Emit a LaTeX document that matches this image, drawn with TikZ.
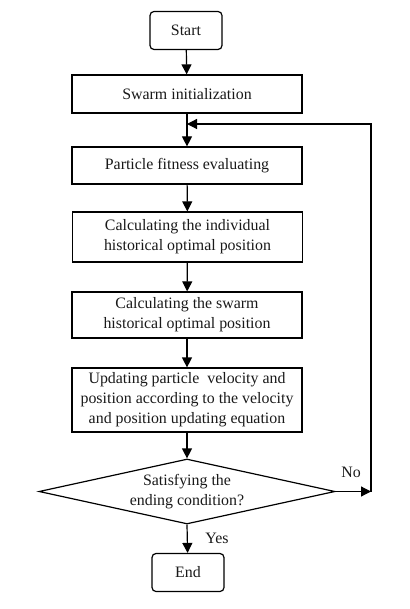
\documentclass[tikz,border=0pt]{standalone}
\usepackage{fontspec}
\setmainfont{Liberation Serif}
\usetikzlibrary{arrows.meta,shapes.geometric}
\begin{document}
\begin{tikzpicture}[x=1pt,y=-1pt,
  every node/.style={font=\fontsize{15.9}{20}\selectfont, text=black!90},
  proc/.style={draw, line width=1.2pt, minimum width=230pt, align=center, inner sep=0pt},
  term/.style={draw, line width=1.2pt, rounded corners=4pt, minimum width=72pt, minimum height=38pt, inner sep=0pt},
  dec/.style={draw, line width=1.2pt, diamond, aspect=4.55, minimum width=296pt, minimum height=65pt, inner sep=0pt, align=center},
  arr/.style={line width=1.2pt, -{Triangle[length=10pt,width=10pt]}},
  lbl/.style={inner sep=0pt}]
\useasboundingbox (0,0) rectangle (409,609);
\node[term] (start) at (186,30.5) {Start};
\node[proc, minimum height=38pt] (init) at (187,94) {Swarm initialization};
\node[proc, minimum height=37pt] (fit) at (187,165.5) {Particle fitness evaluating};
\node[proc, minimum height=50pt] (ind) at (187.5,237) {Calculating the individual\\historical optimal position};
\node[proc, minimum height=46pt] (swm) at (187,315) {Calculating the swarm\\historical optimal position};
\node[proc, minimum height=64pt] (upd) at (187,400) {Updating particle\enspace velocity and\\position according to the velocity\\and position updating equation};
\node[dec] (cond) at (187,491.5) {Satisfying the\\ending condition?};
\node[term] (end) at (188,572.5) {End};
\coordinate (loopin) at (187,124);
\coordinate (rb) at (371,491.5);
\coordinate (rt) at (371,124);
\draw[arr] (start) -- (init);
\draw[line width=1.2pt] (init) -- (loopin);
\draw[arr] (loopin) -- (fit);
\draw[arr] (fit) -- (ind);
\draw[arr] (ind) -- (swm);
\draw[arr] (swm) -- (upd);
\draw[arr] (upd) -- (cond);
\draw[arr] (cond.south) -- (end);
\draw[arr] (cond.east) -- (rb);
\draw[arr] (rb) -- (rt) -- (loopin);
\node[lbl] (no) at (351,472) {No};
\node[lbl] (yes) at (217,538) {Yes};
\end{tikzpicture}
\end{document}
